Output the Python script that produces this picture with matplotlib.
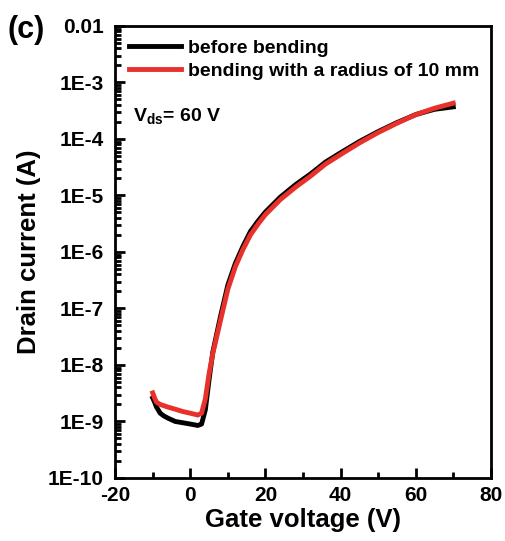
import numpy as np
import matplotlib
matplotlib.use('Agg')
import matplotlib.pyplot as plt
from matplotlib.ticker import LogLocator, FixedLocator, MultipleLocator, NullFormatter

plt.rcParams['font.family'] = ['Liberation Sans', 'DejaVu Sans']
plt.rcParams['font.weight'] = 'bold'
plt.rcParams['axes.unicode_minus'] = False
plt.rcParams['mathtext.fontset'] = 'custom'
plt.rcParams['mathtext.rm'] = 'Liberation Sans:bold'
plt.rcParams['mathtext.bf'] = 'Liberation Sans:bold'
plt.rcParams['mathtext.it'] = 'Liberation Sans:bold'

# gate voltage (V)
vg_antes = [-10, -9.5, -9, -8, -7, -6, -4, -2, 0, 2, 3, 4, 5, 6, 8, 10, 12, 14,
            16, 18, 20, 24, 28, 32, 36, 40, 45, 50, 55, 60, 65, 70]
id_antes = [2.6e-9, 2.2e-9, 1.8e-9, 1.4e-9, 1.25e-9, 1.15e-9, 1.0e-9, 0.95e-9, 0.9e-9,
            0.85e-9, 0.9e-9, 1.6e-9, 5.5e-9, 1.7e-8, 7e-8, 2.6e-7, 6.3e-7, 1.25e-6,
            2.3e-6, 3.5e-6, 5.1e-6, 9.4e-6, 1.55e-5, 2.4e-5, 3.9e-5, 5.7e-5,
            9.0e-5, 1.35e-4, 1.95e-4, 2.7e-4, 3.35e-4, 3.7e-4]

vg_curv = [-10, -9.5, -9, -8, -7, -6, -4, -2, 0, 2, 3, 4, 5, 6, 8, 10, 12, 14,
           16, 18, 20, 24, 28, 32, 36, 40, 45, 50, 55, 60, 65, 70]
id_curv = [3.2e-9, 2.6e-9, 2.2e-9, 2.0e-9, 1.9e-9, 1.8e-9, 1.65e-9, 1.5e-9, 1.4e-9,
           1.3e-9, 1.4e-9, 2.5e-9, 7e-9, 1.6e-8, 6e-8, 2.2e-7, 5.5e-7, 1.1e-6,
           2.0e-6, 3.1e-6, 4.6e-6, 8.5e-6, 1.4e-5, 2.2e-5, 3.6e-5, 5.3e-5,
           8.5e-5, 1.3e-4, 1.9e-4, 2.7e-4, 3.5e-4, 4.3e-4]

ylabels = ['1E-10', '1E-9', '1E-8', '1E-7', '1E-6', '1E-5', '1E-4', '1E-3', '0.01']

fig = plt.figure(figsize=(5.05, 5.41), dpi=100)
ax = fig.add_axes([0.228, 0.1165, 0.744, 0.8355])

ax.plot(vg_antes, id_antes, color='black', lw=3.5, label='before bending')
ax.plot(vg_curv, id_curv, color='#e8312a', lw=3.5, label='bending with a radius of 10 mm')

ax.set_yscale('log')
ax.set_xlim(-20, 80)
ax.set_ylim(1e-10, 1e-2)
ax.xaxis.set_major_locator(MultipleLocator(20))
ax.xaxis.set_minor_locator(MultipleLocator(10))
ax.yaxis.set_major_locator(FixedLocator([10.0 ** k for k in range(-10, -1)]))
ax.set_yticklabels(ylabels)
ax.yaxis.set_minor_locator(LogLocator(base=10, subs=np.arange(2, 10), numticks=20))
ax.yaxis.set_minor_formatter(NullFormatter())

for s in ax.spines.values():
    s.set_linewidth(2)
ax.tick_params(which='both', direction='in', width=2, labelsize=15, top=False, right=False)
ax.tick_params(which='major', length=7)
ax.tick_params(which='minor', length=4)
ax.tick_params(axis='y', pad=8)
ax.tick_params(axis='x', pad=6)

ax.set_xlabel('Gate voltage (V)', fontsize=18.5, fontweight='bold', labelpad=2)
ax.set_ylabel('Drain current (A)', fontsize=18.5, fontweight='bold', labelpad=5)

ax.legend(loc='upper left', frameon=False, fontsize=14, handlelength=2.7,
          handletextpad=0.35, borderaxespad=0.3, labelspacing=0.25)
ax.text(0.048, 0.79, r'$\mathbf{V_{ds}}$= 60 V', transform=ax.transAxes, fontsize=14,
        fontweight='bold')
fig.text(0.015, 0.93, '(c)', fontsize=22, fontweight='bold')

fig.savefig('out.png', dpi=100)
